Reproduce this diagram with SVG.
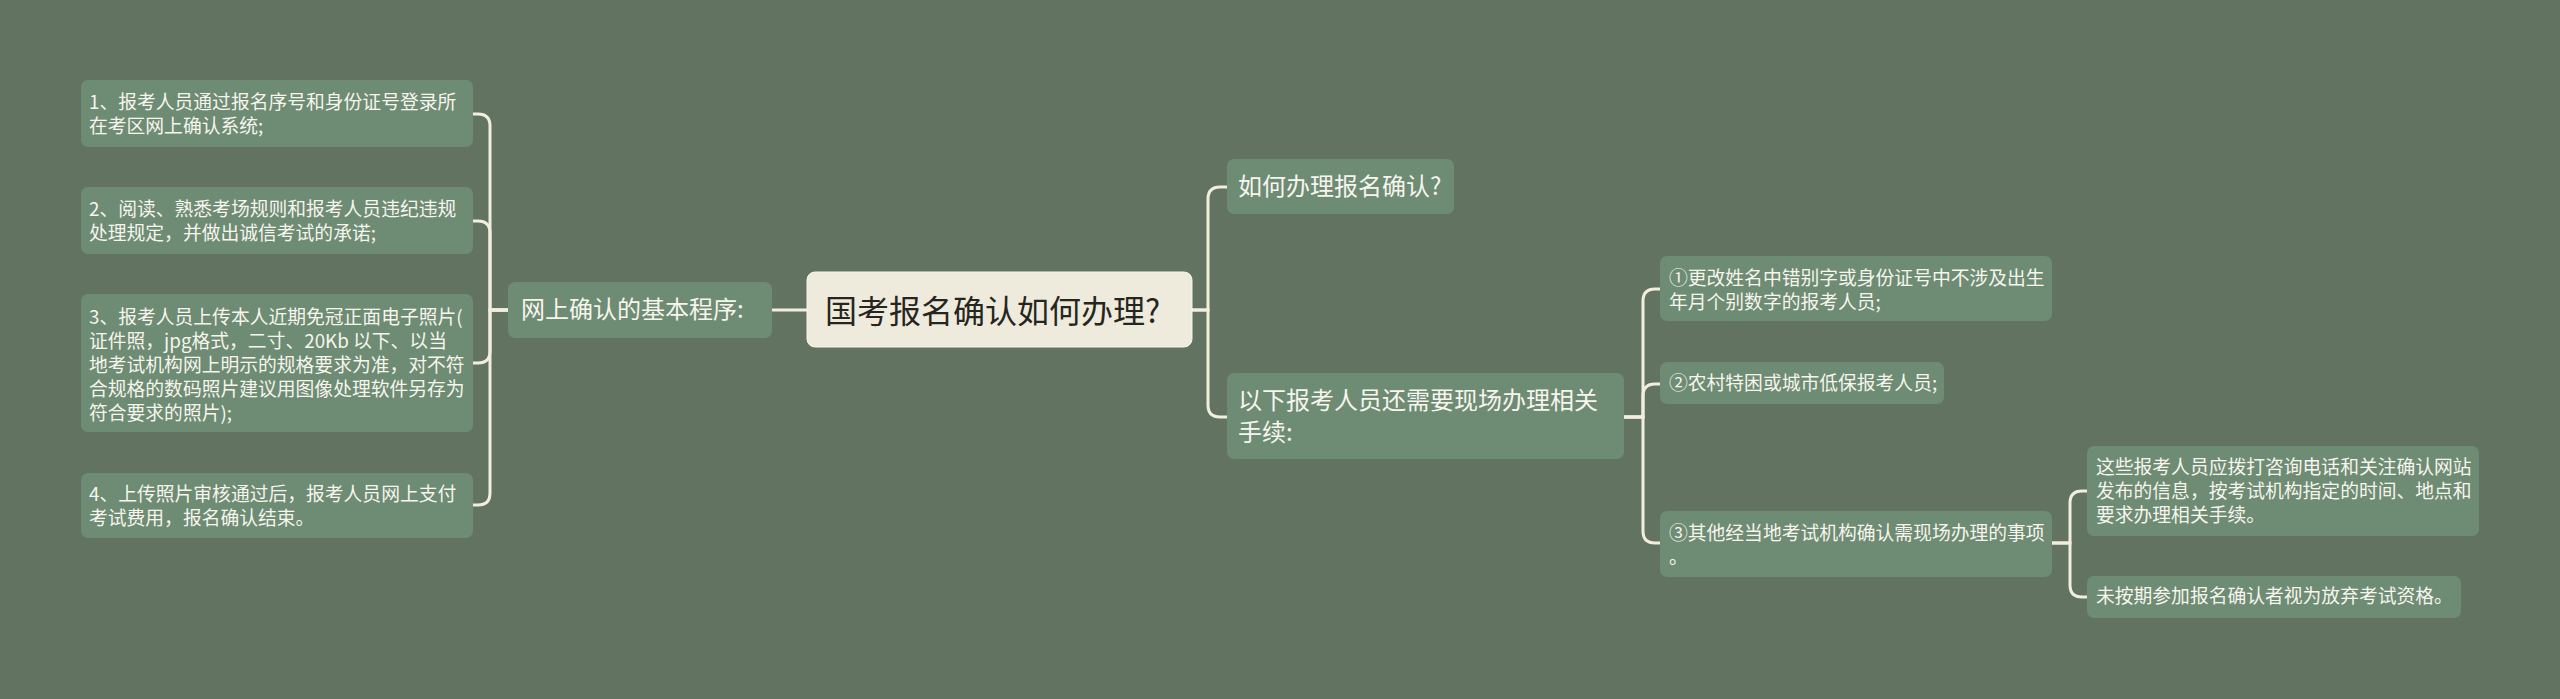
<svg xmlns="http://www.w3.org/2000/svg" width="2560" height="699" viewBox="0 0 2560 699">
<style>
.bg{fill:#627461}
.n{fill:#6e8b74}
.root{fill:#efebdc;stroke:#f7f4ea;stroke-width:1}
.t{font-family:"Noto Sans CJK SC","Noto Sans",sans-serif;fill:#f6f5ee}
.s{font-size:18.8px}
.m{font-size:24px}
.r{font-family:"Noto Sans CJK SC","Noto Sans",sans-serif;font-size:32px;fill:#262620}
.c{fill:none;stroke:#f2eedd;stroke-width:3;stroke-linecap:round}
</style>
<rect class="bg" x="0" y="0" width="2560" height="699"/>
<g id="connectors">
<path class="c" d="M807,310 H772"/>
<path class="c" d="M508,310 H490 V126 Q490,114 478,114 H473"/>
<path class="c" d="M508,310 H490 V233 Q490,221 478,221 H473"/>
<path class="c" d="M508,310 H490 V351 Q490,363 478,363 H473"/>
<path class="c" d="M508,310 H490 V493 Q490,505 478,505 H473"/>
<path class="c" d="M1192,310 H1208 V199 Q1208,187 1220,187 H1227"/>
<path class="c" d="M1192,310 H1208 V405 Q1208,417 1220,417 H1227"/>
<path class="c" d="M1624,417 H1643 V301 Q1643,289 1655,289 H1660"/>
<path class="c" d="M1624,417 H1643 V396 Q1643,384 1655,384 H1660"/>
<path class="c" d="M1624,417 H1643 V531 Q1643,543 1655,543 H1660"/>
<path class="c" d="M2052,543 H2070 V503 Q2070,491 2082,491 H2087"/>
<path class="c" d="M2052,543 H2070 V585 Q2070,597 2082,597 H2087"/>
</g>
<g id="root">
<rect class="root" x="807" y="272" width="385" height="75" rx="8"/>
<text class="r" x="825" y="323">国考报名确认如何办理?</text>
</g>
<g id="n-online">
<rect class="n" x="508" y="282" width="264" height="56" rx="7"/>
<text class="t m" x="521" y="318">网上确认的基本程序:</text>
</g>
<g id="n-step1">
<rect class="n" x="81" y="80" width="392" height="67" rx="7"/>
<text class="t s" x="89" y="109">1、报考人员通过报名序号和身份证号登录所</text>
<text class="t s" x="89" y="133">在考区网上确认系统;</text>
</g>
<g id="n-step2">
<rect class="n" x="81" y="187" width="392" height="67" rx="7"/>
<text class="t s" x="89" y="216">2、阅读、熟悉考场规则和报考人员违纪违规</text>
<text class="t s" x="89" y="240">处理规定，并做出诚信考试的承诺;</text>
</g>
<g id="n-step3">
<rect class="n" x="81" y="294" width="392" height="138" rx="7"/>
<text class="t s" x="89" y="324">3、报考人员上传本人近期免冠正面电子照片(</text>
<text class="t s" x="89" y="348">证件照，jpg格式，二寸、20Kb 以下、以当</text>
<text class="t s" x="89" y="372">地考试机构网上明示的规格要求为准，对不符</text>
<text class="t s" x="89" y="396">合规格的数码照片建议用图像处理软件另存为</text>
<text class="t s" x="89" y="420">符合要求的照片);</text>
</g>
<g id="n-step4">
<rect class="n" x="81" y="473" width="392" height="65" rx="7"/>
<text class="t s" x="89" y="501">4、上传照片审核通过后，报考人员网上支付</text>
<text class="t s" x="89" y="525">考试费用，报名确认结束。</text>
</g>
<g id="n-how">
<rect class="n" x="1227" y="159" width="227" height="55" rx="7"/>
<text class="t m" x="1238" y="195">如何办理报名确认?</text>
</g>
<g id="n-onsite">
<rect class="n" x="1227" y="373" width="397" height="86" rx="7"/>
<text class="t m" x="1238" y="409">以下报考人员还需要现场办理相关</text>
<text class="t m" x="1238" y="441">手续:</text>
</g>
<g id="n-c1">
<rect class="n" x="1660" y="256" width="392" height="65" rx="7"/>
<text class="t s" x="1669" y="285">①更改姓名中错别字或身份证号中不涉及出生</text>
<text class="t s" x="1669" y="309">年月个别数字的报考人员;</text>
</g>
<g id="n-c2">
<rect class="n" x="1660" y="362" width="284" height="42" rx="7"/>
<text class="t s" x="1669" y="390">②农村特困或城市低保报考人员;</text>
</g>
<g id="n-c3">
<rect class="n" x="1660" y="511" width="392" height="66" rx="7"/>
<text class="t s" x="1669" y="540">③其他经当地考试机构确认需现场办理的事项</text>
<text class="t s" x="1669" y="564">。</text>
</g>
<g id="n-c3a">
<rect class="n" x="2087" y="446" width="392" height="90" rx="7"/>
<text class="t s" x="2096" y="474">这些报考人员应拨打咨询电话和关注确认网站</text>
<text class="t s" x="2096" y="498">发布的信息，按考试机构指定的时间、地点和</text>
<text class="t s" x="2096" y="522">要求办理相关手续。</text>
</g>
<g id="n-c3b">
<rect class="n" x="2087" y="576" width="374" height="42" rx="7"/>
<text class="t s" x="2096" y="603">未按期参加报名确认者视为放弃考试资格。</text>
</g>
</svg>
